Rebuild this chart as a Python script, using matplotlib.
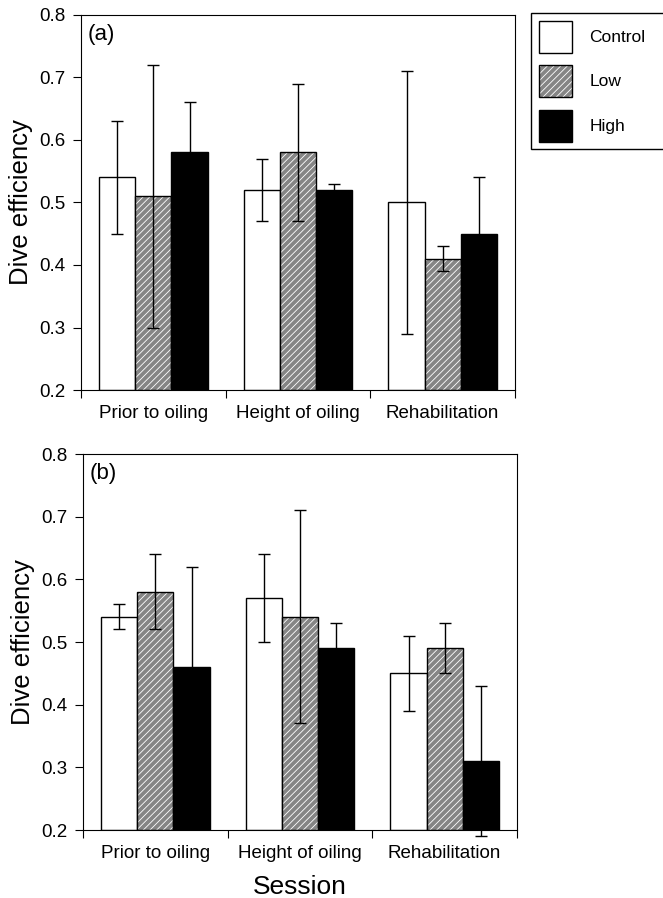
import matplotlib
matplotlib.use('Agg')
import matplotlib.pyplot as plt
from matplotlib.patches import Patch
from matplotlib.legend_handler import HandlerTuple
import numpy as np

plt.rcParams['font.family'] = ['Liberation Sans', 'DejaVu Sans']
plt.rcParams['hatch.linewidth'] = 0.6

# Données
sessions = ['Prior to oiling', 'Height of oiling', 'Rehabilitation']
groups = ['Control', 'Low', 'High']

# panneau (a)
a_control = [0.54, 0.52, 0.50]
a_control_err = [0.09, 0.05, 0.21]
a_low = [0.51, 0.58, 0.41]
a_low_err = [0.21, 0.11, 0.02]
a_high = [0.58, 0.52, 0.45]
a_high_err = [0.08, 0.01, 0.09]

# panneau (b)
b_control = [0.54, 0.57, 0.45]
b_control_err = [0.02, 0.07, 0.06]
b_low = [0.58, 0.54, 0.49]
b_low_err = [0.06, 0.17, 0.04]
b_high = [0.46, 0.49, 0.31]
b_high_err = [0.16, 0.04, 0.12]

GRAY = '#858585'
HATCH = '/////'


def draw_panel(ax, means, errs, tag):
    x = np.arange(len(sessions))
    offsets = [0.25, 0.5, 0.75]
    w = 0.25
    for k, (m, e) in enumerate(zip(means, errs)):
        pos = x + offsets[k]
        if k == 0:
            ax.bar(pos, np.array(m) - 0.2, w, bottom=0.2, color='white',
                   edgecolor='black', linewidth=1)
        elif k == 1:
            ax.bar(pos, np.array(m) - 0.2, w, bottom=0.2, color=GRAY,
                   edgecolor='white', hatch=HATCH, linewidth=0)
            ax.bar(pos, np.array(m) - 0.2, w, bottom=0.2, fill=False,
                   edgecolor='black', linewidth=1)
        else:
            ax.bar(pos, np.array(m) - 0.2, w, bottom=0.2, color='black',
                   edgecolor='black', linewidth=1)
        eb = ax.errorbar(pos, m, yerr=e, fmt='none', ecolor='black',
                         elinewidth=1, capsize=4, capthick=1)
        for art in eb.get_children():
            art.set_clip_on(False)
    ax.set_xlim(0, 3)
    ax.set_ylim(0.2, 0.8)
    ax.set_yticks(np.arange(0.2, 0.81, 0.1))
    ax.set_yticklabels(['%.1f' % v for v in np.arange(0.2, 0.81, 0.1)])
    ax.set_xticks([0, 1, 2, 3])
    ax.set_xticklabels([])
    ax.set_xticks(x + 0.5, minor=True)
    ax.set_xticklabels(sessions, minor=True)
    ax.tick_params(axis='x', which='minor', length=0, pad=11, labelsize=13.5)
    ax.tick_params(axis='x', which='major', length=6, direction='out')
    ax.tick_params(axis='y', length=6, direction='out', labelsize=13.5, pad=5)
    ax.set_ylabel('Dive efficiency', fontsize=18.5, labelpad=5)
    ax.text(0.016, 0.975, tag, transform=ax.transAxes, ha='left', va='top',
            fontsize=16)


fig = plt.figure(figsize=(6.63, 8.98), dpi=100)
ax1 = fig.add_axes([0.1222, 0.5657, 0.6546, 0.4176])
ax2 = fig.add_axes([0.1252, 0.0757, 0.6546, 0.4187])

draw_panel(ax1, [a_control, a_low, a_high],
           [a_control_err, a_low_err, a_high_err], '(a)')
draw_panel(ax2, [b_control, b_low, b_high],
           [b_control_err, b_low_err, b_high_err], '(b)')
ax2.set_xlabel('Session', fontsize=19, labelpad=9)

h_control = Patch(facecolor='white', edgecolor='black', linewidth=1)
h_low = (Patch(facecolor=GRAY, edgecolor='white', hatch=HATCH, linewidth=0),
         Patch(fill=False, edgecolor='black', linewidth=1))
h_high = Patch(facecolor='black', edgecolor='black', linewidth=1)

leg = fig.legend([h_control, h_low, h_high], groups,
                 handler_map={tuple: HandlerTuple(ndivide=1)},
                 loc='upper left', bbox_to_anchor=(531 / 663, 1 - 13 / 898, 0.3, 0.0),
                 mode='expand', borderaxespad=0, fontsize=12.5,
                 handlelength=1.9, handleheight=2.45, labelspacing=0.72,
                 borderpad=0.45, handletextpad=1.0,
                 fancybox=False, edgecolor='black', framealpha=1)
leg.get_frame().set_linewidth(1)

fig.savefig('out.png', dpi=100)
